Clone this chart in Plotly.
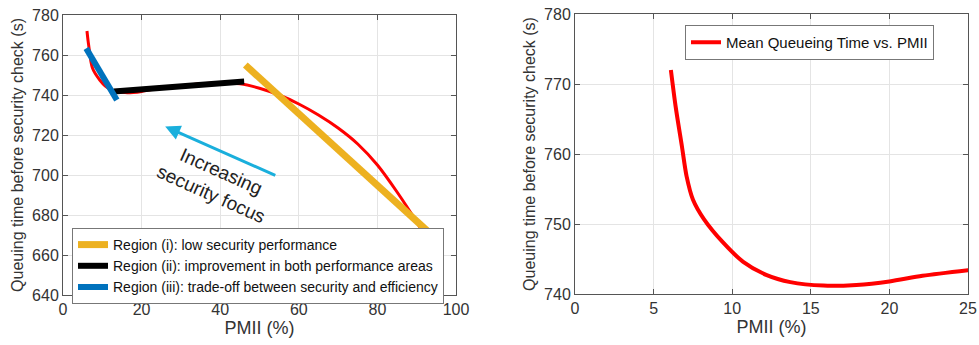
import plotly.graph_objects as go

# Data
pmii = [6.1, 6.4, 6.8, 7.1, 7.5, 8.2, 9.4, 10.7, 12.2, 13.7, 15.8, 17.9, 20.0, 22.1, 25.0,
        30, 35, 40, 45, 50, 55, 60, 65, 70, 75, 80, 85, 90, 92]
queue = [772.0, 766.8, 761.1, 756.8, 753.5, 750.7, 747.4, 744.6, 742.7, 741.7, 741.2, 741.3, 741.8, 742.6, 743.4,
         744.6, 745.6, 746.0, 745.6, 743.4, 740.0, 735.5, 730.0, 723.5, 715.5, 705.0, 691.5, 676.5, 670.0]

region_i_x = [46.4, 93.4]
region_i_y = [755.0, 670.8]
region_ii_x = [12.9, 46.1]
region_ii_y = [741.7, 746.7]
region_iii_x = [5.9, 13.7]
region_iii_y = [763.3, 737.5]

left_xticks = [0, 20, 40, 60, 80, 100]
left_yticks = [640, 660, 680, 700, 720, 740, 760, 780]
right_xticks = [0, 5, 10, 15, 20, 25]
right_yticks = [740, 750, 760, 770, 780]

W, H = 979, 345
font_family = "Liberation Sans, Arial, sans-serif"

fig = go.Figure()

fig.add_trace(go.Scatter(x=pmii, y=queue, mode="lines",
                         line=dict(color="#ff0000", width=3, shape="spline", smoothing=0.8),
                         showlegend=False, xaxis="x", yaxis="y"))
fig.add_trace(go.Scatter(x=region_i_x, y=region_i_y, mode="lines", line=dict(color="#EDB120", width=7),
                         name="Region (i): low security performance", xaxis="x", yaxis="y", legend="legend"))
fig.add_trace(go.Scatter(x=region_ii_x, y=region_ii_y, mode="lines", line=dict(color="#000000", width=6),
                         name="Region (ii): improvement in both performance areas", xaxis="x", yaxis="y", legend="legend"))
fig.add_trace(go.Scatter(x=region_iii_x, y=region_iii_y, mode="lines", line=dict(color="#0072BD", width=6),
                         name="Region (iii): trade-off between security and efficiency", xaxis="x", yaxis="y", legend="legend"))

fig.add_trace(go.Scatter(x=pmii, y=queue, mode="lines",
                         line=dict(color="#ff0000", width=4, shape="spline", smoothing=0.8),
                         name="Mean Queueing Time vs. PMII", xaxis="x2", yaxis="y2", legend="legend2"))

axis_common = dict(showline=True, linecolor="#555555", linewidth=1, mirror="allticks",
                   ticks="inside", ticklen=5, tickcolor="#555555",
                   showgrid=True, gridcolor="#e4e4e4", gridwidth=1, zeroline=False,
                   tickfont=dict(size=16, color="#333333", family=font_family),
                   automargin=False)

fig.update_layout(
    width=W, height=H,
    margin=dict(l=0, r=0, t=0, b=0),
    paper_bgcolor="white", plot_bgcolor="white",
    font=dict(family=font_family),
    xaxis=dict(domain=[63 / W, 456 / W], range=[0, 100], tickvals=left_xticks, anchor="y",
               title=dict(text="PMII (%)", font=dict(size=18, color="#333333"), standoff=2), **axis_common),
    yaxis=dict(domain=[1 - 295 / H, 1 - 15 / H], range=[640, 780], tickvals=left_yticks, anchor="x",
               title=dict(text="Queuing time before security check (s)", font=dict(size=16, color="#333333"), standoff=4),
               **axis_common),
    xaxis2=dict(domain=[575 / W, 968 / W], range=[0, 25], tickvals=right_xticks, anchor="y2",
                title=dict(text="PMII (%)", font=dict(size=18, color="#333333"), standoff=2), **axis_common),
    yaxis2=dict(domain=[1 - 294 / H, 1 - 14 / H], range=[740, 780], tickvals=right_yticks, anchor="x2",
                title=dict(text="Queuing time before security check (s)", font=dict(size=16, color="#333333"), standoff=4),
                **axis_common),
    legend=dict(x=72 / W, y=1 - 228 / H, xanchor="left", yanchor="top",
                bgcolor="white", bordercolor="#777777", borderwidth=1,
                font=dict(size=14, color="#111111"), tracegroupgap=0, itemwidth=30),
    legend2=dict(x=685 / W, y=1 - 25 / H, xanchor="left", yanchor="top",
                 bgcolor="white", bordercolor="#777777", borderwidth=1,
                 font=dict(size=15, color="#111111"), itemwidth=30),
)

fig.add_annotation(x=26, y=724.2, ax=54.4, ay=699.5, xref="x", yref="y", axref="x", ayref="y",
                   showarrow=True, arrowhead=2, arrowsize=1, arrowwidth=3, arrowcolor="#1AAFDC", text="")
fig.add_annotation(x=39, y=696, xref="x", yref="y", text="Increasing<br>security focus",
                   showarrow=False, textangle=24, font=dict(size=19, color="#222222", family=font_family))

fig.write_html("out.html")
